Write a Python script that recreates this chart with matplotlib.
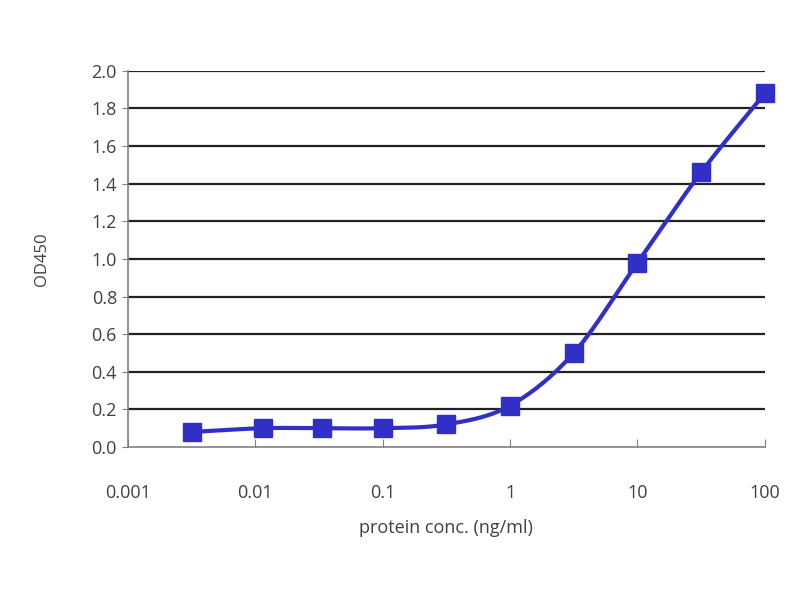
import numpy as np
import matplotlib.pyplot as plt
from matplotlib.ticker import FixedLocator, FixedFormatter

# protein concentration (ng/ml) and OD450
conc = [0.00316, 0.0115, 0.0335, 0.1, 0.316, 1.0, 3.16, 10.0, 31.6, 100.0]
od450 = [0.08, 0.10, 0.10, 0.10, 0.12, 0.22, 0.50, 0.98, 1.46, 1.88]
x_ticks = [0.001, 0.01, 0.1, 1, 10, 100]
x_tick_labels = ['0.001', '0.01', '0.1', '1', '10', '100']
y_ticks = [0.0, 0.2, 0.4, 0.6, 0.8, 1.0, 1.2, 1.4, 1.6, 1.8, 2.0]

blue = '#3030c8'
text_col = '#404040'

plt.rcParams['font.family'] = ['Open Sans', 'DejaVu Sans']


def smooth_line(xs, ys, n=30):
    # catmull-rom through the points, in log x space (like excel "smoothed line")
    lx = np.log10(xs)
    y = np.asarray(ys, dtype=float)
    px = np.concatenate([[2 * lx[0] - lx[1]], lx, [2 * lx[-1] - lx[-2]]])
    py = np.concatenate([[2 * y[0] - y[1]], y, [2 * y[-1] - y[-2]]])
    out_x, out_y = [], []
    t = np.linspace(0, 1, n)
    for i in range(1, len(px) - 2):
        for p, o in ((px, out_x), (py, out_y)):
            p0, p1, p2, p3 = p[i - 1], p[i], p[i + 1], p[i + 2]
            seg = 0.5 * ((2 * p1) + (-p0 + p2) * t
                         + (2 * p0 - 5 * p1 + 4 * p2 - p3) * t ** 2
                         + (-p0 + 3 * p1 - 3 * p2 + p3) * t ** 3)
            o.extend(seg)
    return 10 ** np.array(out_x), np.array(out_y)


fig = plt.figure(figsize=(8, 6), dpi=100)
ax = fig.add_axes([0.16, 0.255, 0.796, 0.627])

sx, sy = smooth_line(conc, od450)
ax.plot(sx, sy, color=blue, linewidth=3, zorder=3)
ax.plot(conc, od450, linestyle='none', marker='s', markersize=13,
        color=blue, zorder=4, clip_on=False)

ax.set_xscale('log')
ax.set_xlim(0.001, 100)
ax.set_ylim(0, 2.0)
ax.xaxis.set_major_locator(FixedLocator(x_ticks))
ax.xaxis.set_major_formatter(FixedFormatter(x_tick_labels))
ax.xaxis.set_minor_locator(FixedLocator([]))
ax.set_yticks(y_ticks)
ax.set_yticklabels(['%.1f' % v for v in y_ticks])

for v in y_ticks[1:]:
    ax.axhline(v, color='#222222', linewidth=1.6, zorder=1)

for s in ['top', 'right']:
    ax.spines[s].set_visible(False)
ax.spines['left'].set_color('#808080')
ax.spines['bottom'].set_color('#808080')
ax.spines['left'].set_linewidth(1.2)
ax.spines['bottom'].set_linewidth(1.2)

ax.tick_params(axis='x', direction='in', length=6, color='#808080',
               labelsize=13, labelcolor=text_col, pad=27)
ax.tick_params(axis='y', direction='out', length=4, color='#808080',
               labelsize=13, labelcolor=text_col, pad=4)

ax.set_xlabel('protein conc. (ng/ml)', fontsize=13, color=text_col, labelpad=12)
ax.set_ylabel('OD450', fontsize=12, color=text_col, labelpad=30)

fig.savefig('out.png', dpi=100)
